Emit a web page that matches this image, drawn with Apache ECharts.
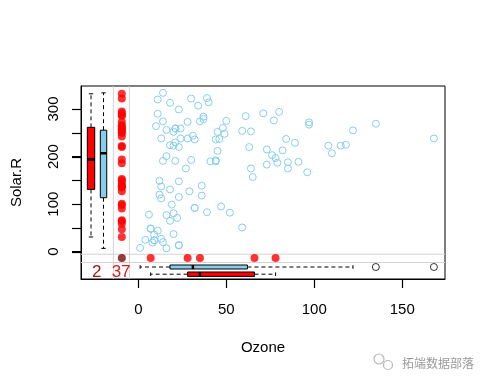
<!DOCTYPE html>
<html>
<head>
<meta charset="utf-8">
<script src="https://cdn.jsdelivr.net/npm/echarts@6/dist/echarts.min.js"></script>
<style>html,body{margin:0;padding:0;background:#fff}#c{width:487px;height:387px}</style>
</head>
<body>
<div id="c"></div>
<script>
// airquality: Ozone and Solar.R (null = missing)
const ozone = [41,36,12,18,null,28,23,19,8,null,7,16,11,14,18,14,34,6,30,11,1,11,4,32,null,null,null,23,45,115,37,null,null,null,null,null,null,29,null,71,39,null,null,23,null,null,21,37,20,12,13,null,null,null,null,null,null,null,null,null,null,135,49,32,null,64,40,77,97,97,85,null,10,27,null,7,48,35,61,79,63,16,null,null,80,108,20,52,82,50,64,59,39,9,16,78,35,66,122,89,110,null,null,44,28,65,null,22,59,23,31,44,21,9,null,45,168,73,null,76,118,84,85,96,78,73,91,47,32,20,23,21,24,44,21,28,9,13,46,18,13,24,16,13,23,36,7,14,30,null,14,18,20];
const solarR = [190,118,149,313,null,null,299,99,19,194,null,256,290,274,65,334,307,78,322,44,8,320,25,92,66,266,null,13,252,223,279,286,287,242,186,220,264,127,273,291,323,259,250,148,332,322,191,284,37,120,137,150,59,91,250,135,127,47,98,31,138,269,248,236,101,175,314,276,267,272,175,139,264,175,291,48,260,274,285,187,220,7,258,295,294,223,81,82,213,275,253,254,83,24,77,null,null,null,255,229,207,222,137,192,273,157,64,71,51,115,244,190,259,36,255,212,238,215,153,203,225,237,188,167,197,183,189,95,92,252,220,230,259,236,259,238,24,112,237,224,27,238,201,238,14,139,49,20,193,145,191,131,223];
const xTicks = [0, 50, 100, 150];
const yTicks = [0, 50, 100, 150, 200, 250, 300];
const yLabels = [0, 100, 200, 300];

// layout constants (data units)
const X_MIN = -32.6, X_MAX = 174.3, Y_MIN = -57.4, Y_MAX = 348.4;
const V_LINE1 = -14.2, V_LINE2 = -5.1, H_LINE1 = -5.3, H_LINE2 = -22.7;
const MISS_X = -9.4, MISS_Y = -13.2;
const RED_V_X = -26.9, BLUE_V_X = -19.8, BLUE_H_Y = -32.2, RED_H_Y = -47.3;
const TXT_Y = -44.2, TXT_BOTH_X = -23.6, TXT_OZ_X = -9.8;
const TICK_LEN = 9;

// derived sets
const complete = [], solarWhenOzMiss = [], ozWhenSolMiss = [], solarObs = [], ozoneObs = [];
let bothMiss = 0, ozMiss = 0;
for (let i = 0; i < ozone.length; i++) {
  const o = ozone[i], s = solarR[i];
  if (o === null) ozMiss++;
  if (o !== null && s !== null) { complete.push([o, s]); solarObs.push(s); ozoneObs.push(o); }
  else if (o === null && s !== null) solarWhenOzMiss.push(s);
  else if (o !== null && s === null) ozWhenSolMiss.push(o);
  else bothMiss++;
}
function boxStats(arr) {
  const x = arr.slice().sort((a, b) => a - b), n = x.length;
  const n4 = Math.floor((n + 3) / 2) / 2;
  const d = [1, n4, (n + 1) / 2, n + 1 - n4, n];
  const f = d.map(v => 0.5 * (x[Math.floor(v) - 1] + x[Math.ceil(v) - 1]));
  const iqr = f[3] - f[1];
  const lo = x.find(v => v >= f[1] - 1.5 * iqr);
  const hi = x.slice().reverse().find(v => v <= f[3] + 1.5 * iqr);
  const out = x.filter(v => v < lo || v > hi);
  return { lo, q1: f[1], md: f[2], q3: f[3], hi, out };
}
const bRedV = boxStats(solarWhenOzMiss), bBlueV = boxStats(solarObs);
const bBlueH = boxStats(ozoneObs), bRedH = boxStats(ozWhenSolMiss);

function boxSeries(st, center, orient, half, cap, fill) {
  return {
    type: 'custom', z: 5, silent: true,
    data: [[center, st.lo, st.q1, st.md, st.q3, st.hi]],
    renderItem: function (params, api) {
      const c = api.value(0);
      const P = v => orient === 'v' ? api.coord([c, v]) : api.coord([v, c]);
      const lo = P(api.value(1)), q1 = P(api.value(2)), md = P(api.value(3)), q3 = P(api.value(4)), hi = P(api.value(5));
      const dash = { stroke: '#000', lineWidth: 1, lineDash: [4, 3] };
      const solid = { stroke: '#000', lineWidth: 1 };
      const ch = [];
      if (orient === 'v') {
        const x = lo[0];
        ch.push({ type: 'line', shape: { x1: x, y1: q3[1], x2: x, y2: hi[1] }, style: dash });
        ch.push({ type: 'line', shape: { x1: x, y1: q1[1], x2: x, y2: lo[1] }, style: dash });
        ch.push({ type: 'line', shape: { x1: x - cap, y1: hi[1], x2: x + cap, y2: hi[1] }, style: solid });
        ch.push({ type: 'line', shape: { x1: x - cap, y1: lo[1], x2: x + cap, y2: lo[1] }, style: solid });
        ch.push({ type: 'rect', shape: { x: x - half, y: q3[1], width: 2 * half, height: q1[1] - q3[1] }, style: { fill: fill, stroke: '#000', lineWidth: 1 } });
        ch.push({ type: 'line', shape: { x1: x - half, y1: md[1], x2: x + half, y2: md[1] }, style: { stroke: '#000', lineWidth: 2.5 } });
      } else {
        const y = lo[1];
        ch.push({ type: 'line', shape: { x1: q3[0], y1: y, x2: hi[0], y2: y }, style: dash });
        ch.push({ type: 'line', shape: { x1: q1[0], y1: y, x2: lo[0], y2: y }, style: dash });
        ch.push({ type: 'line', shape: { x1: hi[0], y1: y - cap, x2: hi[0], y2: y + cap }, style: solid });
        ch.push({ type: 'line', shape: { x1: lo[0], y1: y - cap, x2: lo[0], y2: y + cap }, style: solid });
        ch.push({ type: 'rect', shape: { x: q1[0], y: y - half, width: q3[0] - q1[0], height: 2 * half }, style: { fill: fill, stroke: '#000', lineWidth: 1 } });
        ch.push({ type: 'line', shape: { x1: md[0], y1: y - half, x2: md[0], y2: y + half }, style: { stroke: '#000', lineWidth: 2.5 } });
      }
      return { type: 'group', children: ch };
    }
  };
}
function grayLine(pts) {
  return { type: 'line', data: pts, symbol: 'none', silent: true, z: 1, lineStyle: { color: '#d3d3d3', width: 1 } };
}
function textSeries(x, y, txt, color) {
  return {
    type: 'custom', silent: true, z: 6, data: [[x, y]],
    renderItem: function (params, api) {
      const p = api.coord([api.value(0), api.value(1)]);
      return { type: 'text', x: p[0], y: p[1], style: { text: txt, fill: color, font: '17px "Liberation Sans", Arial, sans-serif', align: 'center', verticalAlign: 'middle' } };
    }
  };
}

const chart = echarts.init(document.getElementById('c'), null, { renderer: 'canvas' });
const fontFam = '"Liberation Sans", Arial, sans-serif';
const watermark = [
  { id: 'wm1', type: 'circle', shape: { cx: 379, cy: 359, r: 5 }, style: { fill: 'none', stroke: '#b8b8b8', lineWidth: 1.2 } },
  { id: 'wm2', type: 'circle', shape: { cx: 388, cy: 365, r: 4.5 }, style: { fill: '#fff', stroke: '#b8b8b8', lineWidth: 1.2 } },
  { id: 'wm3', type: 'text', x: 402, y: 363, style: { text: '拓端数据部落', fill: '#9a9a9a', font: '12px "Noto Sans CJK SC", sans-serif', verticalAlign: 'middle' } }
];
chart.setOption({
  animation: false,
  grid: { left: 81, right: 42, top: 86, bottom: 108, show: true, borderColor: '#000', borderWidth: 1 },
  xAxis: {
    type: 'value', min: X_MIN, max: X_MAX, name: 'Ozone', nameLocation: 'middle', nameGap: 61,
    nameTextStyle: { fontSize: 15, color: '#000', fontFamily: fontFam },
    axisLine: { show: true, onZero: false, lineStyle: { color: '#000', width: 1 } }, splitLine: { show: false },
    axisTick: { show: true, length: TICK_LEN, customValues: xTicks, lineStyle: { color: '#000', width: 1 } },
    axisLabel: { customValues: xTicks, fontSize: 15, color: '#000', fontFamily: fontFam, margin: 23 }
  },
  yAxis: {
    type: 'value', min: Y_MIN, max: Y_MAX, name: 'Solar.R', nameLocation: 'middle', nameGap: 57,
    nameTextStyle: { fontSize: 15, color: '#000', fontFamily: fontFam },
    axisLine: { show: true, onZero: false, lineStyle: { color: '#000', width: 1 } }, splitLine: { show: false },
    axisTick: { show: true, length: TICK_LEN, customValues: yTicks, lineStyle: { color: '#000', width: 1 } },
    axisLabel: { customValues: yLabels, rotate: 90, fontSize: 15, color: '#000', fontFamily: fontFam, margin: 20 }
  },
  graphic: watermark,
  series: [
    grayLine([[V_LINE1, Y_MIN], [V_LINE1, Y_MAX]]),
    grayLine([[V_LINE2, Y_MIN], [V_LINE2, Y_MAX]]),
    grayLine([[X_MIN, H_LINE1], [X_MAX, H_LINE1]]),
    grayLine([[X_MIN, H_LINE2], [X_MAX, H_LINE2]]),
    {
      type: 'scatter', data: complete, symbol: 'circle', symbolSize: 7, z: 3,
      itemStyle: { color: 'rgba(0,0,0,0)', borderColor: '#87CEEB', borderWidth: 1, opacity: 1 }
    },
    {
      type: 'scatter', data: solarWhenOzMiss.map(v => [MISS_X, v]), symbol: 'circle', symbolSize: 8, z: 4,
      itemStyle: { color: '#ff0000' }
    },
    {
      type: 'scatter', data: ozWhenSolMiss.map(v => [v, MISS_Y]), symbol: 'circle', symbolSize: 8, z: 4,
      itemStyle: { color: '#ff0000' }
    },
    {
      type: 'scatter', data: bothMiss > 0 ? [[MISS_X, MISS_Y]] : [], symbol: 'circle', symbolSize: 8, z: 4,
      itemStyle: { color: '#7a0a0a' }
    },
    boxSeries(bRedV, RED_V_X, 'v', 3.7, 2.2, '#ff0000'),
    boxSeries(bBlueV, BLUE_V_X, 'v', 3.2, 2.2, '#87CEEB'),
    boxSeries(bBlueH, BLUE_H_Y, 'h', 2, 1.8, '#87CEEB'),
    boxSeries(bRedH, RED_H_Y, 'h', 2.2, 1.8, '#ff0000'),
    {
      type: 'scatter', data: bBlueH.out.map(v => [v, BLUE_H_Y]), symbol: 'circle', symbolSize: 7, z: 5,
      itemStyle: { color: 'rgba(0,0,0,0)', borderColor: '#000', borderWidth: 1 }
    },
    {
      type: 'scatter', data: bRedH.out.map(v => [v, RED_H_Y]).concat(bRedV.out.map(v => [RED_V_X, v])).concat(bBlueV.out.map(v => [BLUE_V_X, v])), symbol: 'circle', symbolSize: 7, z: 5,
      itemStyle: { color: 'rgba(0,0,0,0)', borderColor: '#000', borderWidth: 1 }
    },
    textSeries(TXT_BOTH_X, TXT_Y, String(bothMiss), '#a01818'),
    textSeries(TXT_OZ_X, TXT_Y, String(ozMiss), '#d42020')
  ]
});

// extra tick marks on a top layer, placed through the chart's own scales
const tickEls = [];
xTicks.forEach((v, i) => {
  const p = chart.convertToPixel({ xAxisIndex: 0, yAxisIndex: 0 }, [v, Y_MIN]);
  const x = Math.round(p[0]) + 0.5;
  tickEls.push({ id: 'xt' + i, type: 'line', zlevel: 1, z: 100, silent: true, shape: { x1: x, y1: p[1], x2: x, y2: p[1] + TICK_LEN }, style: { stroke: '#000', lineWidth: 1.2 } });
});
yTicks.forEach((v, i) => {
  const p = chart.convertToPixel({ xAxisIndex: 0, yAxisIndex: 0 }, [X_MIN, v]);
  const y = Math.round(p[1]) + 0.5;
  tickEls.push({ id: 'yt' + i, type: 'line', zlevel: 1, z: 100, silent: true, shape: { x1: p[0] - TICK_LEN, y1: y, x2: p[0], y2: y }, style: { stroke: '#000', lineWidth: 1.2 } });
});
chart.setOption({ graphic: watermark.concat(tickEls) });
</script>
</body>
</html>
